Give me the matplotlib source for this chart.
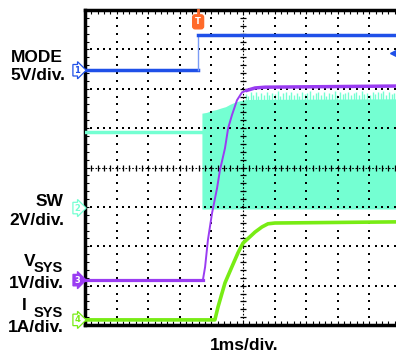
import numpy as np
import matplotlib
matplotlib.use("Agg")
import matplotlib.pyplot as plt

# scope settings: 1 ms/div, 10 x 8 divisions
n_xdiv, n_ydiv = 10, 8

# channel ground positions (divisions from bottom) and scale per div
ch1_ground, ch1_scale = 6.47, 5.0   # MODE 5V/div
ch2_ground, ch2_scale = 2.97, 2.0   # SW 2V/div
ch3_ground, ch3_scale = 1.14, 1.0   # VSYS 1V/div
ch4_ground, ch4_scale = 0.13, 1.0   # ISYS 1A/div

# MODE (V)
mode_t = [0.0, 3.58, 3.58, 10.0]
mode_v = [0.0, 0.0, 4.45, 4.45]

# SW idle level before switching starts (V)
sw_idle_t = [0.0, 3.70]
sw_idle_v = [3.86, 3.86]

# SW switching band: top edge of the dense part (V)
sw_top_t = [3.70, 3.85, 4.00, 4.15, 4.30, 4.45, 4.60, 4.75, 4.90, 5.05, 5.30, 10.0]
sw_top_v = [4.82, 4.86, 4.95, 5.00, 5.08, 5.15, 5.28, 5.38, 5.45, 5.50, 5.52, 5.55]
sw_bottom_v = -0.05

# SW ringing spikes above the band (V)
spike_t = [5.08, 5.15, 5.24, 5.33, 5.40, 5.47, 5.58, 5.66, 5.75, 5.83, 5.92,
           6.01, 6.10, 6.18, 6.27, 6.35, 6.44, 6.52, 6.61, 6.70, 6.78, 6.86,
           6.95, 7.04, 7.12, 7.21, 7.30, 7.38, 7.46, 7.55, 7.64, 7.72, 7.81,
           7.90, 7.98, 8.07, 8.15, 8.24, 8.33, 8.41, 8.50, 8.58, 8.67, 8.76,
           8.84, 8.93, 9.01, 9.10, 9.19, 9.27, 9.36, 9.44, 9.53, 9.62, 9.70,
           9.79, 9.87, 9.96]
spike_v = [5.80, 5.70, 5.88, 5.74, 5.92, 5.68, 5.84, 5.76, 5.90, 5.72, 5.86,
           5.78, 5.94, 5.70, 5.82, 5.88, 5.74, 5.92, 5.76, 5.84, 5.70, 5.90,
           5.78, 5.86, 5.94, 5.72, 5.82, 5.88, 5.76, 5.92, 5.70, 5.86, 5.80,
           5.94, 5.74, 5.88, 5.78, 5.84, 5.92, 5.72, 5.86, 5.90, 5.76, 5.94,
           5.80, 5.86, 5.74, 5.92, 5.78, 5.88, 5.82, 5.96, 5.74, 5.90, 5.80,
           5.86, 5.92, 5.78]

# VSYS (V)
vsys_t = [0.0, 3.73, 3.80, 3.89, 4.02, 4.18, 4.27, 4.43, 4.53, 4.65,
          4.81, 4.97, 5.13, 5.38, 5.70, 10.0]
vsys_v = [0.0, 0.0, 0.33, 1.02, 1.70, 2.34, 2.79, 3.35, 3.86, 4.19,
          4.57, 4.77, 4.82, 4.88, 4.90, 4.93]

# ISYS (A)
isys_t = [0.0, 4.11, 4.21, 4.43, 4.65, 4.84, 5.00, 5.22, 5.38, 5.60,
          5.79, 6.01, 10.0]
isys_a = [0.0, 0.0, 0.33, 0.94, 1.35, 1.70, 1.95, 2.11, 2.23, 2.36,
          2.44, 2.46, 2.49]

c_blue = '#1f50e8'
c_cyan = '#74ffd2'
c_purple = '#9a3cf2'
c_green = '#78ec14'
c_orange = '#ff6a2a'


def to_div(vals, ground, scale):
    return [ground + v / scale for v in vals]


def px(x, y):
    # pixel position -> figure fraction
    return x / 396.0, 1.0 - y / 354.0


fig = plt.figure(figsize=(3.96, 3.54), dpi=100)
fig.patch.set_facecolor('white')
ax = fig.add_axes([85 / 396, 29 / 354, 316 / 396, 315 / 354])
ax.set_xlim(0, n_xdiv)
ax.set_ylim(0, n_ydiv)

# border
for s in ['top', 'left', 'bottom']:
    ax.spines[s].set_linewidth(2.5)
ax.spines['right'].set_visible(False)
ax.set_xticks(np.arange(0, n_xdiv + 0.01, 0.2))
ax.set_yticks(np.arange(0, n_ydiv + 0.01, 0.2))
ax.tick_params(axis='x', direction='in', length=3, width=0.8, top=True,
               bottom=True, labelbottom=False, labeltop=False)
ax.tick_params(axis='y', direction='in', length=3, width=0.8, left=True,
               right=False, labelleft=False)

# dotted graticule
minor_x = np.arange(0.2, n_xdiv, 0.2)
minor_y = np.arange(0.2, n_ydiv, 0.2)
for xi in range(1, n_xdiv):
    if xi == 5:
        continue
    ax.scatter(np.full(len(minor_y), xi), minor_y, s=0.8, marker='s',
               color='black', linewidths=0, zorder=2)
for yi in range(1, n_ydiv):
    if yi == 4:
        continue
    ax.scatter(minor_x, np.full(len(minor_x), yi), s=0.8, marker='s',
               color='black', linewidths=0, zorder=2)

# center cross with ticks
ax.plot([5, 5], [0, n_ydiv], color='black', lw=0.8, ls=(0, (1.5, 1.5)), zorder=2)
ax.plot([0, n_xdiv], [4, 4], color='black', lw=0.8, ls=(0, (1.5, 1.5)), zorder=2)
ax.plot(np.full(len(minor_y), 5), minor_y, ls='none', marker='_', ms=5,
        mew=0.9, color='black', zorder=2)
ax.plot(minor_x, np.full(len(minor_x), 4), ls='none', marker='|', ms=5,
        mew=0.9, color='black', zorder=2)

# SW
ax.fill_between(sw_top_t, to_div([sw_bottom_v] * len(sw_top_t), ch2_ground, ch2_scale),
                to_div(sw_top_v, ch2_ground, ch2_scale), color=c_cyan, lw=0, zorder=1)
ax.vlines(spike_t, to_div([5.4] * len(spike_t), ch2_ground, ch2_scale),
          to_div(spike_v, ch2_ground, ch2_scale), color=c_cyan, lw=1.0, zorder=1)
ax.plot(sw_idle_t, to_div(sw_idle_v, ch2_ground, ch2_scale), color=c_cyan, lw=2.5, zorder=3)

# MODE: flat levels thick, fast edge thin
mode_y = to_div(mode_v, ch1_ground, ch1_scale)
ax.plot(mode_t[:2], mode_y[:2], color=c_blue, lw=2.5, zorder=3)
ax.plot(mode_t[1:3], mode_y[1:3], color='#7b9cf5', lw=1.0, zorder=3)
ax.plot(mode_t[2:], mode_y[2:], color=c_blue, lw=2.5, zorder=3)

# VSYS / ISYS
vsys_y = to_div(vsys_v, ch3_ground, ch3_scale)
ax.plot(vsys_t[:2], vsys_y[:2], color=c_purple, lw=2.3, zorder=4)
ax.plot(vsys_t[1:13], vsys_y[1:13], color=c_purple, lw=1.4, zorder=4)
ax.plot(vsys_t[12:], vsys_y[12:], color=c_purple, lw=2.5, zorder=4)
ax.plot(isys_t, to_div(isys_a, ch4_ground, ch4_scale), color=c_green, lw=2.6, zorder=4)

# channel markers on the left
markers = [('1', ch1_ground, 'white', c_blue, c_blue),
           ('2', ch2_ground, 'white', c_cyan, c_cyan),
           ('3', ch3_ground, c_purple, c_purple, 'white'),
           ('4', ch4_ground, 'white', c_green, c_green)]
for lab, g, fc, ec, tc in markers:
    ax.text(-0.25, g, lab, ha='center', va='center', fontsize=6, color=tc,
            fontweight='bold', clip_on=False, zorder=5,
            bbox=dict(boxstyle='rarrow,pad=0.15', fc=fc, ec=ec, lw=0.9))

# trigger position and level
ax.plot([3.58, 3.58], [7.9, 8.0], color=c_orange, lw=2, clip_on=False, zorder=5)
ax.text(3.58, 7.7, 'T', ha='center', va='center', fontsize=6, color='white',
        fontweight='bold', clip_on=False, zorder=5,
        bbox=dict(boxstyle='round,pad=0.3', fc=c_orange, ec=c_orange))
ax.plot(9.78, 6.9, marker='<', ms=6, color=c_blue, clip_on=False, zorder=5)

# labels
fnt = dict(family='Liberation Sans', fontweight='bold', color='black')
fig.text(*px(63, 57), 'MODE', ha='right', va='center', fontsize=12.5, **fnt)
fig.text(*px(65, 76), '5V/div.', ha='right', va='center', fontsize=12.5, **fnt)
fig.text(*px(63, 201), 'SW', ha='right', va='center', fontsize=12.5, **fnt)
fig.text(*px(64, 220), '2V/div.', ha='right', va='center', fontsize=12.5, **fnt)
fig.text(*px(35, 261), 'V', ha='right', va='center', fontsize=12.5, **fnt)
fig.text(*px(63, 268), 'SYS', ha='right', va='center', fontsize=10.5, **fnt)
fig.text(*px(64, 283), '1V/div.', ha='right', va='center', fontsize=12.5, **fnt)
fig.text(*px(27, 306), 'I', ha='right', va='center', fontsize=12.5, **fnt)
fig.text(*px(63, 313), 'SYS', ha='right', va='center', fontsize=10.5, **fnt)
fig.text(*px(64, 327), '1A/div.', ha='right', va='center', fontsize=12.5, **fnt)
fig.text(*px(244, 345), '1ms/div.', ha='center', va='center', fontsize=12.5, **fnt)

fig.savefig('out.png', dpi=100, facecolor='white')
